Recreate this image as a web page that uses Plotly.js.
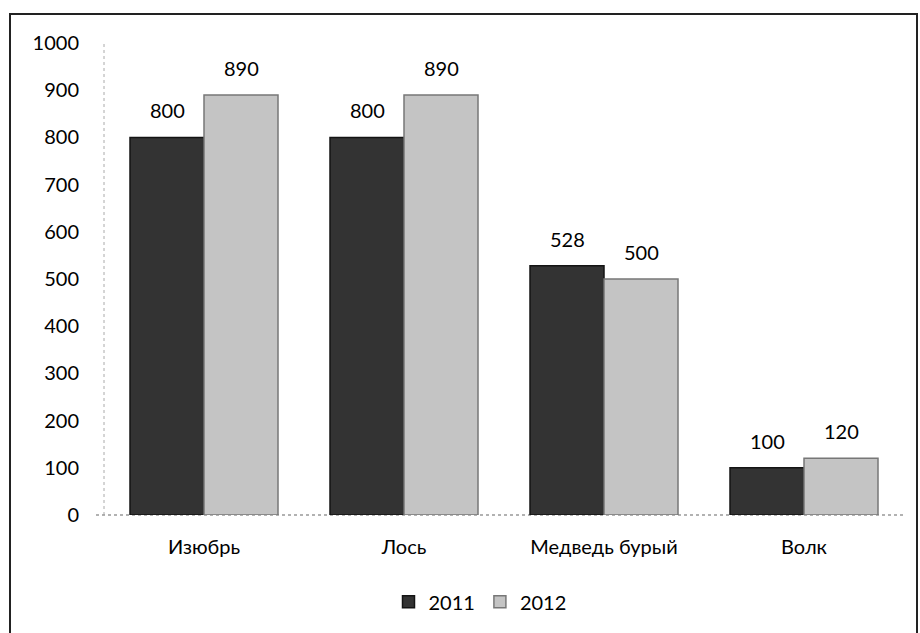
<!DOCTYPE html>
<html>
<head>
<meta charset="utf-8">
<script src="https://cdn.plot.ly/plotly-3.0.1.min.js"></script>
<style>
  html, body { margin: 0; padding: 0; background: #fff; }
  #frame { position: absolute; left: 9px; top: 13px; width: 905px; height: 640px; border: 2px solid #222; pointer-events: none; z-index: 5; }
  #chart { position: absolute; left: 0; top: 0; width: 920px; height: 633px; }
</style>
</head>
<body>
<div id="frame"></div>
<div id="chart"></div>
<script>
const categories = ["Изюбрь", "Лось", "Медведь бурый", "Волк"];
const seriesNames = ["2011", "2012"];
const values2011 = [800, 800, 528, 100];
const values2012 = [890, 890, 500, 120];
const yTicks = [0, 100, 200, 300, 400, 500, 600, 700, 800, 900, 1000];

const FONT = "Lato, 'Open Sans', sans-serif";

const traces = [
  {
    type: "bar", name: seriesNames[0], x: categories, y: values2011,
    marker: { color: "#333333", line: { color: "#141414", width: 1.5 } }
  },
  {
    type: "bar", name: seriesNames[1], x: categories, y: values2012,
    marker: { color: "#c4c4c4", line: { color: "#777777", width: 1.5 } }
  }
];

const annotations = [];
[values2011, values2012].forEach((vals, s) => {
  vals.forEach((v, i) => {
    annotations.push({
      x: i + (s === 0 ? -0.185 : 0.185), y: v, xref: "x", yref: "y",
      text: String(v), showarrow: false, yanchor: "bottom", yshift: 13,
      font: { family: FONT, size: 20, color: "#000" }
    });
  });
});

const layout = {
  width: 920, height: 633,
  margin: { l: 104, r: 16, t: 43, b: 116 },
  paper_bgcolor: "rgba(0,0,0,0)", plot_bgcolor: "rgba(0,0,0,0)",
  font: { family: FONT, size: 20, color: "#000" },
  barmode: "group", bargap: 0.26, bargroupgap: 0,
  xaxis: {
    type: "category", showgrid: false, showline: false, zeroline: false,
    ticks: "", ticklabelstandoff: 18,
    tickfont: { family: FONT, size: 20, color: "#000" }
  },
  yaxis: {
    range: [0, 1000], tickvals: yTicks, ticktext: yTicks.map(String),
    showgrid: false, showline: false, zeroline: false, ticks: "",
    ticklabelstandoff: 24,
    tickfont: { family: FONT, size: 20, color: "#000" }
  },
  showlegend: true,
  legend: {
    orientation: "h", x: 0.47, xanchor: "center", y: -0.184, yanchor: "middle",
    font: { family: FONT, size: 20, color: "#000" }, itemwidth: 30, traceorder: "normal"
  },
  annotations: annotations,
  shapes: [
    { type: "line", xref: "paper", yref: "paper", x0: 0, x1: 0, y0: 0, y1: 1,
      line: { color: "#aaa", width: 1, dash: "dot" }, layer: "below" },
    { type: "line", xref: "paper", yref: "paper", x0: -0.01, x1: 1, y0: 0, y1: 0,
      line: { color: "#999", width: 1.5, dash: "dot" }, layer: "below" }
  ]
};

Plotly.newPlot("chart", traces, layout, { displayModeBar: false, staticPlot: true });
</script>
</body>
</html>
